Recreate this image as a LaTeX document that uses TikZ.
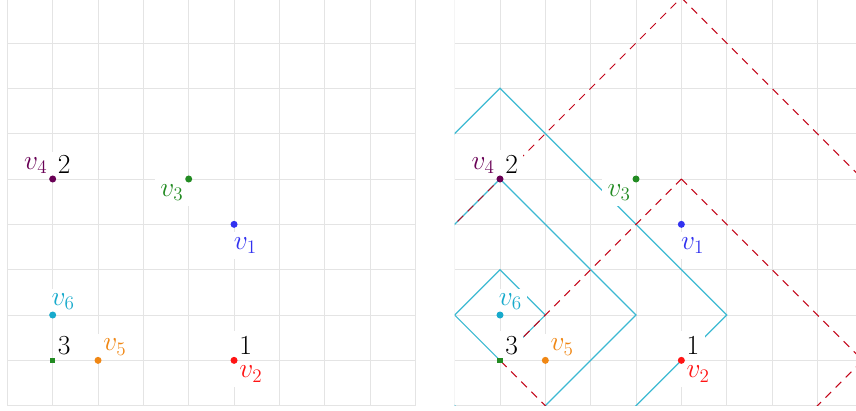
\documentclass[tikz,border=0pt]{standalone}
\definecolor{gridc}{RGB}{228,228,228}
\definecolor{cpurple}{RGB}{105,0,85}
\definecolor{cgreen}{RGB}{34,139,34}
\definecolor{cblue}{RGB}{50,50,240}
\definecolor{ccyan}{RGB}{23,170,204}
\definecolor{corange}{RGB}{240,135,20}
\definecolor{cred}{RGB}{255,20,20}
\definecolor{ddred}{RGB}{195,5,25}
\definecolor{lcyan}{RGB}{60,185,210}
\tikzset{
  gridl/.style={draw=gridc, line width=0.6pt},
  dot/.style={circle, inner sep=0pt, minimum size=4.4pt},
  sqdot/.style={rectangle, inner sep=0pt, minimum size=3.4pt},
  lbl/.style={font=\LARGE, inner sep=3.3pt, outer sep=0pt, fill=white},
  cyanl/.style={draw=lcyan, line width=0.75pt},
  redl/.style={draw=ddred, line width=0.65pt, dash pattern=on 5pt off 4pt},
}
\begin{document}
\begin{tikzpicture}[x=1cm,y=1cm]
\useasboundingbox (-0.162,-0.095) rectangle (18.718,8.948);
% ---------------- left panel ----------------
\begin{scope}
  \draw[gridl] (0,0) grid (9,9);
  \coordinate (Lv1) at (5,4);
  \coordinate (Lv2) at (5,1);
  \coordinate (Lv3) at (4,5);
  \coordinate (Lv4) at (1,5);
  \coordinate (Lv5) at (2,1);
  \coordinate (Lv6) at (1,2);
  \coordinate (Lsq) at (1,1);
  \node[lbl, text=cblue, anchor=north west, xshift=-0.12cm, yshift=-0.17cm] (Ll1) at (Lv1) {$v_1$};
  \node[lbl, text=cred, anchor=north west, yshift=-0.01cm] (Ll2) at (Lv2) {$v_2$};
  \node[lbl, text=black, anchor=south west, yshift=0.01cm] (Ln1) at (Lv2) {1};
  \node[lbl, text=cgreen, anchor=north east] (Ll3) at (Lv3) {$v_3$};
  \node[lbl, text=cpurple, anchor=south east] (Ll4) at (Lv4) {$v_4$};
  \node[lbl, text=black, anchor=south west] (Ln2) at (Lv4) {2};
  \node[lbl, text=corange, anchor=south west] (Ll5) at (Lv5) {$v_5$};
  \node[lbl, text=ccyan, anchor=south west, xshift=-0.14cm] (Ll6) at (Lv6) {$v_6$};
  \node[lbl, text=black, anchor=south west] (Ln3) at (Lsq) {3};
  \node[dot, fill=cblue] (Ld1) at (Lv1) {};
  \node[dot, fill=cred] (Ld2) at (Lv2) {};
  \node[dot, fill=cgreen] (Ld3) at (Lv3) {};
  \node[dot, fill=cpurple] (Ld4) at (Lv4) {};
  \node[dot, fill=corange] (Ld5) at (Lv5) {};
  \node[dot, fill=ccyan] (Ld6) at (Lv6) {};
  \node[sqdot, fill=cgreen] (Ldq) at (Lsq) {};
\end{scope}
% ---------------- right panel ----------------
\begin{scope}[xshift=9.866cm]
  \begin{scope}
    \clip (0,0) rectangle (9,9);
    \draw[gridl] (0,0) grid (9,9);
    \coordinate (Rv1) at (5,4);
    \coordinate (Rv2) at (5,1);
    \coordinate (Rv3) at (4,5);
    \coordinate (Rv4) at (1,5);
    \coordinate (Rv5) at (2,1);
    \coordinate (Rv6) at (1,2);
    \coordinate (Rsq) at (1,1);
    % cyan diamonds centred on v6, radii 1, 3, 5
    \foreach \r in {1,3,5}{
      \draw[cyanl] ([shift={(0,\r)}]Rv6) -- ([shift={(\r,0)}]Rv6) -- ([shift={(0,-\r)}]Rv6) -- ([shift={(-\r,0)}]Rv6) -- cycle;
    }
    % red dashed diamonds centred on v2, radii 4, 8
    \foreach \r in {4,8}{
      \draw[redl] ([shift={(0,\r)}]Rv2) -- ([shift={(\r,0)}]Rv2) -- ([shift={(0,-\r)}]Rv2) -- ([shift={(-\r,0)}]Rv2) -- cycle;
    }
  \end{scope}
  \node[lbl, text=cblue, anchor=north west, xshift=-0.12cm, yshift=-0.17cm] (Rl1) at (Rv1) {$v_1$};
  \node[lbl, text=cred, anchor=north west, yshift=-0.01cm] (Rl2) at (Rv2) {$v_2$};
  \node[lbl, text=black, anchor=south west, yshift=0.01cm] (Rn1) at (Rv2) {1};
  \node[lbl, text=cgreen, anchor=north east] (Rl3) at (Rv3) {$v_3$};
  \node[lbl, text=cpurple, anchor=south east] (Rl4) at (Rv4) {$v_4$};
  \node[lbl, text=black, anchor=south west] (Rn2) at (Rv4) {2};
  \node[lbl, text=corange, anchor=south west] (Rl5) at (Rv5) {$v_5$};
  \node[lbl, text=ccyan, anchor=south west, xshift=-0.14cm] (Rl6) at (Rv6) {$v_6$};
  \node[lbl, text=black, anchor=south west] (Rn3) at (Rsq) {3};
  \node[dot, fill=cblue] (Rd1) at (Rv1) {};
  \node[dot, fill=cred] (Rd2) at (Rv2) {};
  \node[dot, fill=cgreen] (Rd3) at (Rv3) {};
  \node[dot, fill=cpurple] (Rd4) at (Rv4) {};
  \node[dot, fill=corange] (Rd5) at (Rv5) {};
  \node[dot, fill=ccyan] (Rd6) at (Rv6) {};
  \node[sqdot, fill=cgreen] (Rdq) at (Rsq) {};
\end{scope}
\end{tikzpicture}
\end{document}
